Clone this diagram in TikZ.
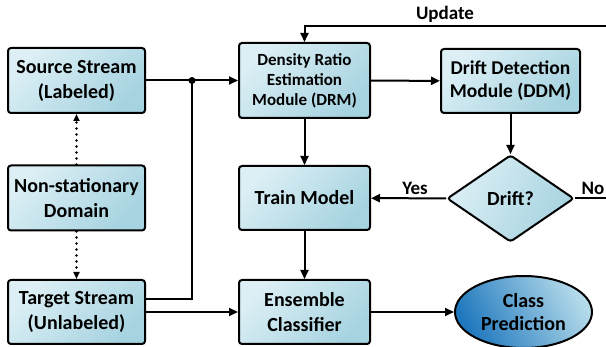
\documentclass[tikz,border=0pt]{standalone}
\usepackage{fontspec}
\setmainfont{Carlito}
\usetikzlibrary{arrows.meta,shapes.geometric}
\definecolor{boxlight}{HTML}{DCEFF5}
\definecolor{boxdark}{HTML}{A6D3E0}
\definecolor{ovaldark}{HTML}{1F78BE}
\definecolor{ovallight}{HTML}{B5DBEA}
\tikzset{
  blok/.style={draw, line width=2pt, rounded corners=3pt, align=center,
    top color=boxlight, bottom color=boxdark, shading angle=45,
    font=\bfseries\fontsize{20}{25}\selectfont},
  sipka/.style={line width=2pt, -{Triangle[length=9pt,width=8pt]}},
  tecky/.style={line width=2.6pt, line cap=round, dash pattern=on 0pt off 6pt, -{Triangle[length=7pt,width=6pt]}},
  popis/.style={font=\bfseries\fontsize{19}{20}\selectfont}
}
\begin{document}
\begin{tikzpicture}[x=1pt,y=-1pt]
\useasboundingbox (0,0) rectangle (606,347);
% Levý sloupec
\node[blok, minimum width=137pt, minimum height=65pt] (src) at (76.5,80.5) {Source Stream\\(Labeled)};
\node[blok, minimum width=137pt, minimum height=65pt] (nsd) at (76.5,198) {Non-stationary\\Domain};
\node[blok, minimum width=137pt, minimum height=64pt] (tgt) at (76.5,312) {Target Stream\\(Unlabeled)};
% Prostřední sloupec
\node[blok, minimum width=131pt, minimum height=75pt, font=\bfseries\fontsize{17}{20}\selectfont] (drm) at (304.5,80.5) {Density Ratio\\Estimation\\Module (DRM)};
\node[blok, minimum width=131pt, minimum height=64pt] (train) at (304.5,198) {Train Model};
\node[blok, minimum width=131pt, minimum height=64pt] (ens) at (304.5,312) {Ensemble\\Classifier};
% Pravý sloupec
\node[blok, minimum width=139pt, minimum height=64pt, font=\bfseries\fontsize{19.5}{23}\selectfont] (ddm) at (510.5,81) {Drift Detection\\Module (DDM)};
\node[blok, diamond, aspect=1.47, inner sep=1pt, minimum width=127pt, minimum height=87pt, shading angle=60] (drift) at (510.5,198.5) {Drift?};
\node[ellipse, draw, line width=2pt, align=center, minimum width=137pt, minimum height=72pt,
  left color=ovaldark, right color=ovallight, shading angle=120,
  font=\bfseries\fontsize{20}{23}\selectfont] (pred) at (523.5,312) {Class\\Prediction};
% Pomocné body
\coordinate (junc) at (192,80.5);
\coordinate (updR) at (606,26);
\coordinate (noR) at (606,198.5);
% Spojnice
\draw[sipka] (src) -- (drm);
\draw[line width=2pt] ([yshift=13pt]tgt.east) -| (junc);
\fill (junc) circle (3.5pt);
\draw[sipka] (tgt) -- (ens);
\draw[tecky] (nsd) -- (src);
\draw[tecky] (nsd) -- (tgt);
\draw[sipka] (drm) -- (ddm);
\draw[sipka] (drm) -- (train);
\draw[sipka] (train) -- (ens);
\draw[sipka] (ddm) -- (drift);
\draw[sipka] (drift) -- (train);
\draw[sipka] (ens) -- (pred);
\draw[line width=2pt] (drift.east) -- (noR);
\draw[sipka] (updR) -| (drm.north);
% Popisky
\node[popis] (upd) at (445,14) {Update};
\node[popis] (yes) at (415,188) {Yes};
\node[popis] (no) at (593,188) {No};
\end{tikzpicture}
\end{document}
